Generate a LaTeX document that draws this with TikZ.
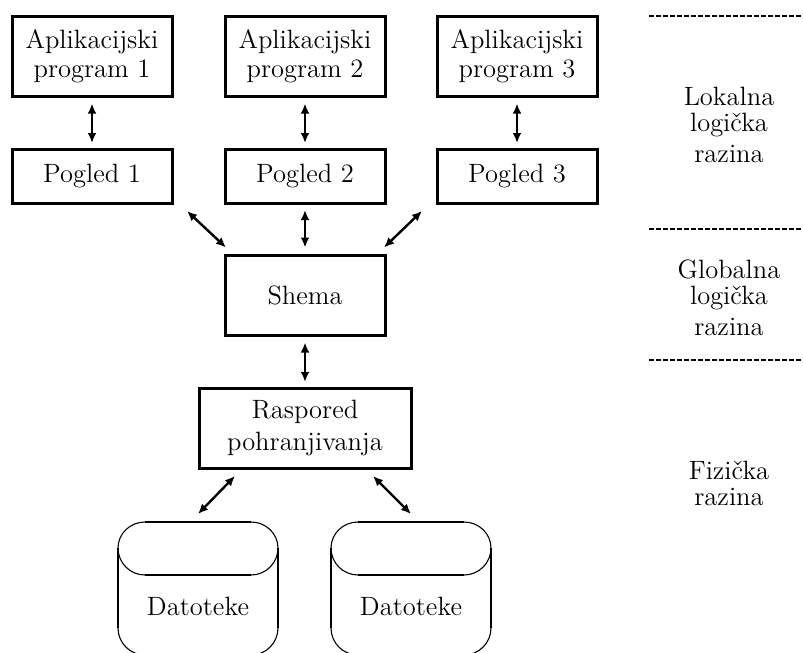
\documentclass[tikz,border=0pt]{standalone}
\usepackage{fontspec}
\usetikzlibrary{arrows.meta}
\tikzset{
  txt/.style={font=\fontsize{13.25}{14.5}\selectfont, align=center, inner sep=0pt, outer sep=0pt},
  lvl/.style={font=\fontsize{13.25}{13}\selectfont, align=center, inner sep=0pt, outer sep=0pt},
  box/.style={txt, draw=black, line width=1.5pt, minimum width=#1*0.5pt, minimum height=\boxh*0.5pt},
  conn/.style={line width=1.2pt, {Latex[length=5pt,width=4.4pt]}-{Latex[length=5pt,width=4.4pt]}},
  level/.style={line width=1.2pt, dash pattern=on 2.6pt off 0.9pt},
  thick edge/.style={line width=1.2pt},
  thin edge/.style={line width=0.55pt},
}
\newcommand{\boxh}{80}
\newcommand{\dbshape}[1]{%
  \draw[thick edge] (#1,548) -- (#1,628);
  \draw[thick edge] (#1+160,548) -- (#1+160,628);
  \draw[thick edge] (#1+27,522) -- (#1+133,522);
  \draw[thick edge] (#1+27,575) -- (#1+133,575);
  \draw[thin edge] (#1,548) arc[start angle=180,end angle=90,x radius=27,y radius=-26];
  \draw[thin edge] (#1+133,522) arc[start angle=90,end angle=0,x radius=27,y radius=-26];
  \draw[thin edge] (#1,548) arc[start angle=180,end angle=90,x radius=27,y radius=27];
  \draw[thin edge] (#1+133,575) arc[start angle=90,end angle=0,x radius=27,y radius=27];
  \draw[thin edge] (#1,628) arc[start angle=180,end angle=90,x radius=27,y radius=27];
  \draw[thin edge] (#1+160,628) arc[start angle=0,end angle=90,x radius=27,y radius=27];
  \draw[thick edge] (#1+27,655) -- (#1+133,655);
}
\begin{document}
\begin{tikzpicture}[x=0.5pt,y=-0.5pt]
\useasboundingbox (0,0) rectangle (803,653);
\begin{scope}
\clip (0,0) rectangle (803,653);
\dbshape{118}
\dbshape{331}
\end{scope}
\coordinate (c1) at (198,522);
\coordinate (c2) at (411,522);
% application boxes
\node[box=160] (a1) at (92,56.5) {Aplikacijski\\program 1};
\node[box=160] (a2) at (305,56.5) {Aplikacijski\\program 2};
\node[box=160] (a3) at (517,56.5) {Aplikacijski\\program 3};
% views
\renewcommand{\boxh}{54}
\node[box=160] (p1) at (92,176) {Pogled 1};
\node[box=160] (p2) at (305,176) {Pogled 2};
\node[box=160] (p3) at (517,176) {Pogled 3};
% schema
\renewcommand{\boxh}{80}
\node[box=160] (sh) at (305,295.5) {Shema};
\node[box=212] (ra) at (305,428) {Raspored\\[1.5pt]pohranjivanja};
% files
\node[txt] (d1) at (198,606) {Datoteke};
\node[txt] (d2) at (411,606) {Datoteke};
% connectors
\draw[conn] ([shift={(0,7)}]a1.south) -- ([shift={(0,-6)}]p1.north);
\draw[conn] ([shift={(0,7)}]a2.south) -- ([shift={(0,-6)}]p2.north);
\draw[conn] ([shift={(0,7)}]a3.south) -- ([shift={(0,-6)}]p3.north);
\draw[conn] ([shift={(15,8)}]p1.south east) -- ([shift={(1,-8)}]sh.north west);
\draw[conn] ([shift={(0,7)}]p2.south) -- ([shift={(0,-8)}]sh.north);
\draw[conn] ([shift={(-15,8)}]p3.south west) -- ([shift={(-1,-8)}]sh.north east);
\draw[conn] ([shift={(0,7)}]sh.south) -- ([shift={(0,-6)}]ra.north);
\draw[conn] ([shift={(36,8)}]ra.south west) -- ([shift={(0,-8)}]c1);
\draw[conn] ([shift={(-38,8)}]ra.south east) -- ([shift={(0,-8)}]c2);
% level lines
\coordinate (l1a) at (649,16);  \coordinate (l1b) at (803,16);
\coordinate (l2a) at (649,229); \coordinate (l2b) at (803,229);
\coordinate (l3a) at (649,360); \coordinate (l3b) at (803,360);
\draw[level] (l1a) -- (l1b);
\draw[level] (l2a) -- (l2b);
\draw[level] (l3a) -- (l3b);
% level labels
\node[lvl] (t1) at (729,125) {Lokalna\\logička\\[2.5pt]razina};
\node[lvl] (t2) at (729,298) {Globalna\\logička\\[2.5pt]razina};
\node[lvl] (t3) at (729,483) {Fizička\\razina};
\end{tikzpicture}
\end{document}
